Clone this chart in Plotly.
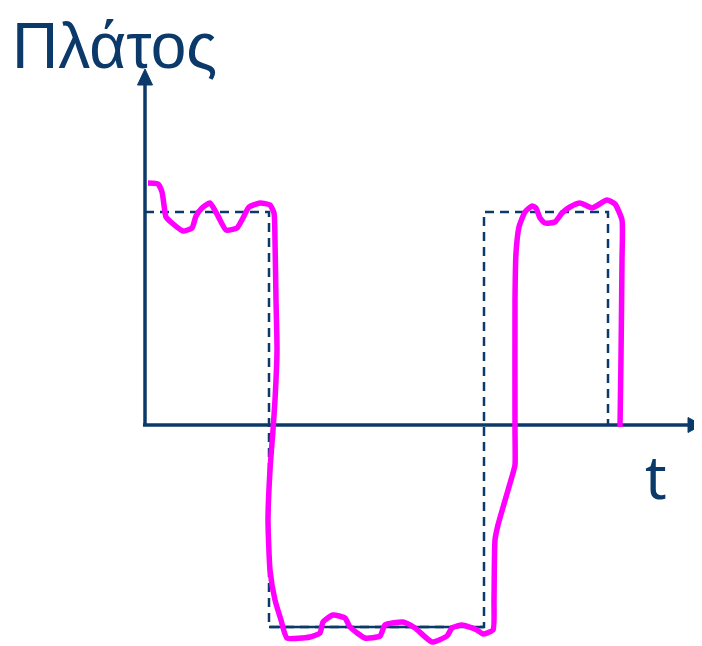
import plotly.graph_objects as go

# ---- data (time t, amplitude) ----
# received (distorted) signal
sig_t = [3, 13, 17, 19, 21, 27, 38, 47, 51, 57, 65, 73, 81, 92, 98, 104, 115, 125, 129,
         130, 131, 132, 130, 128, 125, 123, 125, 130, 136, 142, 165, 175, 178, 188, 200,
         205, 220, 235, 240, 258, 270, 287, 302, 307, 317, 332, 338, 348, 349, 350, 353,
         368, 370, 370, 370, 371, 374, 380, 387, 391, 395, 400, 410, 417, 425, 435, 447,
         453, 462, 470, 477, 477, 476, 475]
sig_a = [242, 241, 233, 220, 208, 202, 194, 197, 209, 217, 222, 209, 195, 197, 207, 218, 222, 220, 212,
         185, 125, 75, 25, -5, -45, -95, -145, -175, -195, -213, -212, -208, -197, -190, -193,
         -202, -213, -211, -200, -197, -203, -217, -211, -203, -200, -205, -209, -205, -175, -115, -100,
         -48, -40, -5, 125, 172, 198, 213, 219, 217, 207, 202, 203, 212, 218, 222, 217,
         220, 225, 221, 205, 165, 68, -2]

# ideal square wave
sq_t = [0, 124, 124, 339, 339, 463, 463]
sq_a = [213, 213, -202, -202, 213, 213, 0]
low_t = [124, 339]
low_a = [-202, -202]

T_MAX = 557      # tip of the time-axis arrow
A_MAX = 356      # tip of the amplitude-axis arrow
ARROW_LEN = 14
ARROW_HALF = 7.5

NAVY = "#0b3a6a"
MAGENTA = "#ff00ff"

W, H = 694, 638   # page body has an 8px margin

fig = go.Figure()

# axes (lines)
fig.add_trace(go.Scatter(x=[0, 0], y=[0, A_MAX - ARROW_LEN], mode="lines",
                         line=dict(color=NAVY, width=3.5), hoverinfo="skip"))
fig.add_trace(go.Scatter(x=[-2, T_MAX - ARROW_LEN], y=[0, 0], mode="lines",
                         line=dict(color=NAVY, width=3.5), hoverinfo="skip"))
# arrow heads
fig.add_trace(go.Scatter(x=[-ARROW_HALF, 0, ARROW_HALF, -ARROW_HALF],
                         y=[A_MAX - ARROW_LEN - 2, A_MAX, A_MAX - ARROW_LEN - 2, A_MAX - ARROW_LEN - 2],
                         mode="lines", fill="toself", fillcolor=NAVY,
                         line=dict(color=NAVY, width=1), hoverinfo="skip"))
fig.add_trace(go.Scatter(x=[T_MAX - ARROW_LEN, T_MAX, T_MAX - ARROW_LEN, T_MAX - ARROW_LEN],
                         y=[ARROW_HALF, 0, -ARROW_HALF, ARROW_HALF],
                         mode="lines", fill="toself", fillcolor=NAVY,
                         line=dict(color=NAVY, width=1), hoverinfo="skip"))

# ideal square wave (dashed)
fig.add_trace(go.Scatter(x=sq_t, y=sq_a, mode="lines",
                         line=dict(color=NAVY, width=2.5, dash="9px,6px"), hoverinfo="skip"))
fig.add_trace(go.Scatter(x=low_t, y=low_a, mode="lines",
                         line=dict(color=NAVY, width=2.5), hoverinfo="skip"))

# received signal
fig.add_trace(go.Scatter(x=sig_t, y=sig_a, mode="lines",
                         line=dict(color=MAGENTA, width=5.5, shape="spline", smoothing=0.5),
                         hoverinfo="skip"))

fig.update_layout(
    width=W, height=H,
    margin=dict(l=0, r=0, t=0, b=0),
    paper_bgcolor="white", plot_bgcolor="white",
    showlegend=False,
    xaxis=dict(range=[-137, 557], visible=False, fixedrange=True),
    yaxis=dict(range=[-221, 417], visible=False, fixedrange=True),
    annotations=[
        dict(text="Πλάτος", xref="paper", yref="paper", x=2 / W, y=1,
             xanchor="left", yanchor="top", showarrow=False,
             font=dict(family="Liberation Sans", size=64, color=NAVY)),
        dict(text="t", xref="paper", yref="paper", x=648 / W, y=1 - 468 / H,
             xanchor="center", yanchor="middle", showarrow=False,
             font=dict(family="Noto Sans", size=60, color=NAVY)),
    ],
)

fig.write_html("out.html")
